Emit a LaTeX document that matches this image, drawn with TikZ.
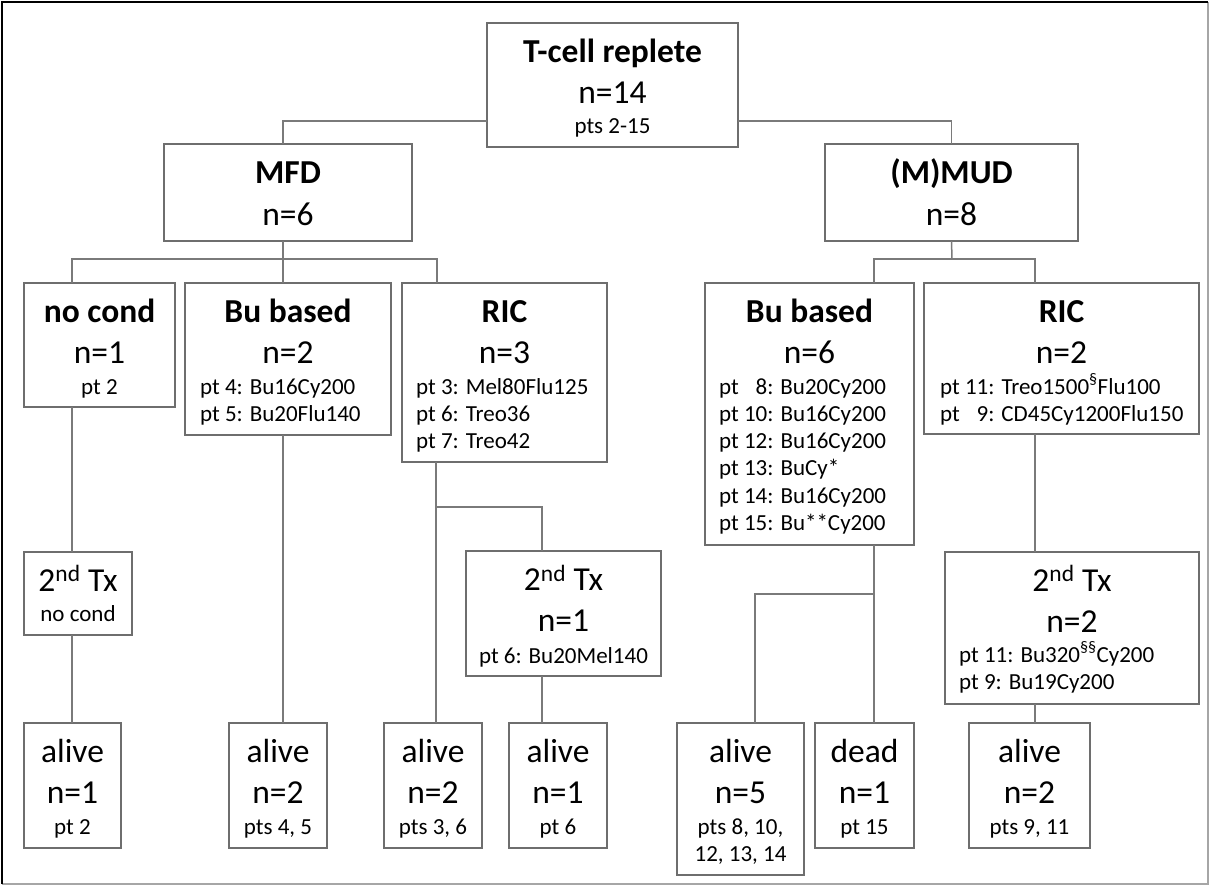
\documentclass[tikz,border=0pt]{standalone}
\usepackage{fontspec}
\setmainfont{Carlito}
\usetikzlibrary{calc}
\definecolor{boxgray}{HTML}{6E6E6E}
\definecolor{linegray}{HTML}{7A7A7A}
\tikzset{
  box/.style={draw=boxgray, line width=1.8pt, inner sep=0pt, outer sep=0pt, fill=white},
  conn/.style={draw=linegray, line width=1.5pt},
  big/.style={font=\fontsize{33.5}{40}\selectfont, inner sep=0pt},
  bigb/.style={font=\fontsize{33.5}{40}\selectfont\bfseries, inner sep=0pt},
  small/.style={font=\fontsize{23}{27}\selectfont, inner sep=0pt},
}
\newcommand\bx[5]{\node[box, minimum width={(#4)-(#2)}, minimum height={(#5)-(#3)}] (#1) at ({((#2)+(#4))/2},{((#3)+(#5))/2}) {};}
\newcommand\txc[5]{\node[#4, anchor=base] (#1) at ($(#2.north)+(0,#3)$) {#5};}
\newcommand\txl[6]{\node[#5, anchor=base west] (#1) at ($(#2.north west)+(#3,#4)$) {#6};}
\begin{document}
\begin{tikzpicture}[x=1pt,y=-1pt]
\useasboundingbox (0,0) rectangle (1210,886);
\fill[white] (0,0) rectangle (1210,886);
\draw[line width=1.2pt, color=gray!70] (1208,2) -- (1208,884) -- (2,884);
\draw[line width=2pt] (2,884) -- (2,2) -- (1208,2);

% boxes
\bx{tcell}{487}{23}{738}{147}
\bx{mfd}{164}{144}{412}{241}
\bx{mud}{825}{144}{1078}{241}
\bx{nocond}{24}{283}{175}{407}
\bx{bumfd}{185}{283}{391}{435}
\bx{ricmfd}{402}{283}{607}{462}
\bx{bumud}{705}{283}{914}{545}
\bx{ricmud}{924}{283}{1199}{434}
\bx{txa}{24}{552}{132}{635}
\bx{txb}{466}{551}{661}{676}
\bx{txc}{945}{552}{1199}{704}
\bx{aa}{24}{723}{121}{848}
\bx{ab}{229}{723}{327}{848}
\bx{ac}{384}{723}{482}{848}
\bx{ad}{509}{723}{607}{848}
\bx{ae}{677}{723}{804}{875}
\bx{dead}{815}{723}{914}{848}
\bx{af}{969}{723}{1090}{848}

% texts
\txc{tcell1}{tcell}{39}{bigb}{T-cell replete}
\txc{tcell2}{tcell}{80}{big}{n=14}
\txc{tcell3}{tcell}{110}{small}{pts 2-15}

\txc{mfd1}{mfd}{39}{bigb}{MFD}
\txc{mfd2}{mfd}{81}{big}{n=6}
\txc{mud1}{mud}{39}{bigb}{(M)MUD}
\txc{mud2}{mud}{81}{big}{n=8}

\txc{nocond1}{nocond}{39}{bigb}{no cond}
\txc{nocond2}{nocond}{80}{big}{n=1}
\txc{nocond3}{nocond}{111}{small}{pt 2}

\txc{bumfd1}{bumfd}{39}{bigb}{Bu based}
\txc{bumfd2}{bumfd}{80}{big}{n=2}
\txl{bumfd3}{bumfd}{15}{111}{small}{pt 4: Bu16Cy200}
\txl{bumfd4}{bumfd}{15}{138.3}{small}{pt 5: Bu20Flu140}

\txc{ricmfd1}{ricmfd}{39}{bigb}{RIC}
\txc{ricmfd2}{ricmfd}{80}{big}{n=3}
\txl{ricmfd3}{ricmfd}{14}{111}{small}{pt 3: Mel80Flu125}
\txl{ricmfd4}{ricmfd}{14}{138.3}{small}{pt 6: Treo36}
\txl{ricmfd5}{ricmfd}{14}{165.6}{small}{pt 7: Treo42}

\txc{bumud1}{bumud}{39}{bigb}{Bu based}
\txc{bumud2}{bumud}{80}{big}{n=6}
\txl{bumud3}{bumud}{14}{111}{small}{pt \phantom{1}8: Bu20Cy200}
\txl{bumud4}{bumud}{14}{138.3}{small}{pt 10: Bu16Cy200}
\txl{bumud5}{bumud}{14}{165.6}{small}{pt 12: Bu16Cy200}
\txl{bumud6}{bumud}{14}{192.9}{small}{pt 13: BuCy*}
\txl{bumud7}{bumud}{14}{220.2}{small}{pt 14: Bu16Cy200}
\txl{bumud8}{bumud}{14}{247.5}{small}{pt 15: Bu**Cy200}

\txc{ricmud1}{ricmud}{39}{bigb}{RIC}
\txc{ricmud2}{ricmud}{80}{big}{n=2}
\txl{ricmud3}{ricmud}{16}{111}{small}{pt 11: Treo1500\textsuperscript{§}Flu100}
\txl{ricmud4}{ricmud}{16}{138.3}{small}{pt \phantom{1}9: CD45Cy1200Flu150}

\txc{txa1}{txa}{39}{big}{2\textsuperscript{nd} Tx}
\txc{txa2}{txa}{69}{small}{no cond}

\txc{txb1}{txb}{39.5}{big}{2\textsuperscript{nd} Tx}
\txc{txb2}{txb}{80.5}{big}{n=1}
\txc{txb3}{txb}{112}{small}{pt 6: Bu20Mel140}

\txc{txc1}{txc}{39}{big}{2\textsuperscript{nd} Tx}
\txc{txc2}{txc}{80}{big}{n=2}
\txl{txc3}{txc}{14}{110}{small}{pt 11: Bu320\textsuperscript{§§}Cy200}
\txl{txc4}{txc}{14}{137}{small}{pt 9: Bu19Cy200}

\txc{aa1}{aa}{39}{big}{alive}
\txc{aa2}{aa}{80}{big}{n=1}
\txc{aa3}{aa}{111}{small}{pt 2}
\txc{ab1}{ab}{39}{big}{alive}
\txc{ab2}{ab}{80}{big}{n=2}
\txc{ab3}{ab}{111}{small}{pts 4, 5}
\txc{ac1}{ac}{39}{big}{alive}
\txc{ac2}{ac}{80}{big}{n=2}
\txc{ac3}{ac}{111}{small}{pts 3, 6}
\txc{ad1}{ad}{39}{big}{alive}
\txc{ad2}{ad}{80}{big}{n=1}
\txc{ad3}{ad}{111}{small}{pt 6}
\txc{ae1}{ae}{39}{big}{alive}
\txc{ae2}{ae}{80}{big}{n=5}
\txc{ae3}{ae}{111}{small}{pts 8, 10,}
\txc{ae4}{ae}{138.7}{small}{12, 13, 14}
\txc{dead1}{dead}{39}{big}{dead}
\txc{dead2}{dead}{80}{big}{n=1}
\txc{dead3}{dead}{111}{small}{pt 15}
\txc{af1}{af}{39}{big}{alive}
\txc{af2}{af}{80}{big}{n=2}
\txc{af3}{af}{111}{small}{pts 9, 11}

% connectors
\draw[conn] ([yshift=-36pt]tcell.west) -| ([xshift=-5pt]mfd.north);
\draw[conn] ([yshift=-36pt]tcell.east) -| (mud.north);

\coordinate (mfdj) at (283,259);
\draw[conn] ([xshift=-5pt]mfd.south) -- (mfdj);
\draw[conn] (mfdj) -| ([xshift=-27.5pt]nocond.north);
\draw[conn] (mfdj) -- ([xshift=-5pt]bumfd.north);
\draw[conn] (mfdj) -| ([xshift=-67.5pt]ricmfd.north);

\coordinate (mudj) at (952,259);
\draw[conn] (mud.south) -- (mudj);
\draw[conn] (mudj) -| ([xshift=64.5pt]bumud.north);
\draw[conn] (mudj) -| ([xshift=-26.5pt]ricmud.north);

\draw[conn] ([xshift=-27.5pt]nocond.south) -- ([xshift=-27.5pt]nocond.south |- txa.north);
\draw[conn] ([xshift=-6pt]txa.south) -- ([xshift=-6pt]txa.south |- aa.north);
\draw[conn] ([xshift=-5pt]bumfd.south) -- ([xshift=-5pt]bumfd.south |- ab.north);

\coordinate (ricj) at (436,507);
\draw[conn] ([xshift=-68.5pt]ricmfd.south) -- ([xshift=-68.5pt]ricmfd.south |- ac.north);
\draw[conn] (ricj) -| ([xshift=-21.5pt]txb.north);
\draw[conn] ([xshift=-21.5pt]txb.south) -- ([xshift=-21.5pt]txb.south |- ad.north);

\coordinate (buj) at (874,594);
\draw[conn] ([xshift=64.5pt]bumud.south) -- ([xshift=64.5pt]bumud.south |- dead.north);
\draw[conn] (buj) -| ([xshift=14.5pt]ae.north);

\draw[conn] ([xshift=-26.5pt]ricmud.south) -- ([xshift=-26.5pt]ricmud.south |- txc.north);
\draw[conn] ([xshift=-37pt]txc.south) -- ([xshift=-37pt]txc.south |- af.north);
\end{tikzpicture}
\end{document}
